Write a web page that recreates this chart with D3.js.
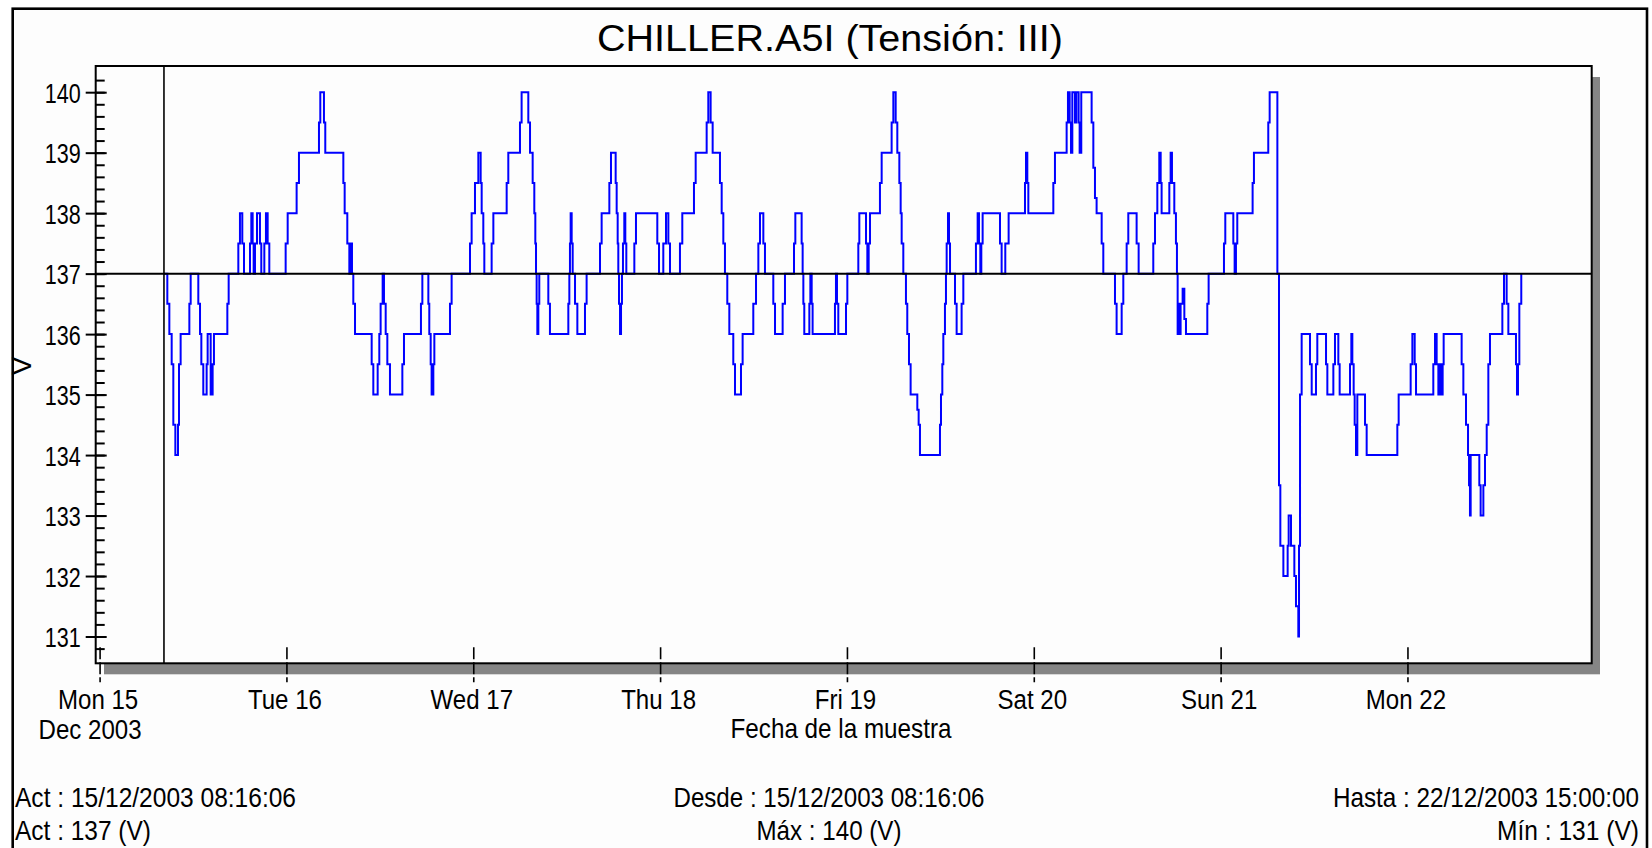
<!DOCTYPE html>
<meta charset="utf-8">
<style>
body { margin: 0; background: #fff; }
svg text { font-family: "Liberation Sans", Arial, sans-serif; fill: #000; }
</style>
<svg width="1652" height="848"></svg>
<script src="https://d3js.org/d3.v7.min.js"></script>
<script>

// series: hours since Mon 15 Dec 2003 00:00, and the reading (V) from then on
var hours = [
  8.27, 8.70, 8.96, 9.26, 9.47, 9.73, 10.07, 10.20, 10.41, 11.53,
  11.70, 12.68, 12.90, 13.07, 13.32, 13.75, 13.88, 14.27, 14.52, 14.69,
  16.41, 16.58, 17.82, 18.03, 18.33, 18.55, 19.32, 19.49, 19.66, 19.79,
  19.96, 20.22, 20.60, 20.77, 21.16, 21.37, 21.59, 21.80, 23.90, 24.16,
  25.31, 25.61, 28.18, 28.35, 28.82, 28.99, 31.31, 31.48, 31.82, 32.08,
  32.25, 32.42, 32.59, 32.81, 34.95, 35.16, 35.72, 35.93, 36.10, 36.36,
  36.53, 36.75, 36.96, 37.30, 38.89, 39.10, 41.28, 41.46, 42.23, 42.35,
  42.53, 42.65, 42.87, 43.00, 45.01, 45.22, 47.58, 47.79, 48.22, 48.65,
  48.95, 49.08, 49.29, 49.42, 50.36, 50.58, 52.29, 52.50, 54.00, 54.21,
  55.07, 55.29, 55.63, 55.84, 55.97, 56.06, 56.14, 56.23, 56.36, 56.48,
  57.64, 57.85, 60.21, 60.34, 60.42, 60.51, 60.64, 60.77, 61.07, 61.37,
  62.35, 62.56, 64.28, 64.49, 65.48, 65.69, 66.29, 66.42, 66.55, 66.63,
  66.72, 66.85, 66.98, 67.10, 67.23, 67.40, 67.53, 67.66, 68.69, 68.90,
  71.64, 71.86, 72.41, 72.76, 73.06, 73.27, 74.55, 74.85, 76.35, 76.57,
  77.98, 78.19, 78.49, 78.75, 79.69, 79.91, 80.12, 80.33, 80.63, 80.89,
  81.40, 81.62, 82.39, 82.60, 83.97, 84.32, 84.62, 84.83, 85.26, 85.47,
  86.54, 86.76, 87.74, 88.04, 89.20, 89.37, 90.18, 90.31, 90.40, 90.52,
  91.17, 91.30, 91.47, 91.59, 94.46, 94.59, 94.72, 94.89, 95.88, 96.05,
  97.46, 97.59, 98.45, 98.62, 98.79, 98.96, 100.24, 100.46, 101.74, 101.96,
  102.26, 102.47, 102.73, 102.90, 103.03, 103.24, 103.58, 103.75, 103.97, 104.18,
  105.04, 105.21, 105.38, 107.95, 108.08, 108.25, 108.38, 108.59, 108.72, 108.81,
  108.98, 109.11, 109.24, 109.88, 110.09, 110.73, 110.95, 112.57, 112.79, 112.96,
  113.13, 113.26, 113.43, 115.66, 115.87, 116.34, 116.77, 118.87, 119.00, 119.17,
  119.30, 122.51, 122.72, 124.22, 124.39, 124.61, 124.78, 124.95, 125.29, 125.46,
  125.76, 125.89, 126.10, 127.43, 127.65, 127.86, 128.07, 128.72, 128.93, 130.43,
  130.64, 131.29, 131.50, 131.93, 132.14, 133.21, 133.47, 135.35, 135.57, 135.87,
  136.12, 136.30, 136.42, 137.41, 137.58, 137.75, 138.05, 138.26, 138.39, 138.48,
  138.61, 138.74, 138.86, 139.12, 139.34, 139.55, 142.29, 142.46, 144.43, 144.60,
  145.63, 145.80, 145.97, 146.14, 148.11, 148.28, 150.12, 150.30, 151.29, 151.50,
  151.67, 152.06, 152.61, 152.74, 153.04, 153.47, 153.68, 153.98, 154.07, 154.20,
  154.41, 155.48, 155.70, 156.25, 156.42, 157.54, 157.71, 158.48, 158.69, 159.12,
  159.29, 160.62, 160.79, 160.92, 161.09, 161.22, 161.39, 161.56, 162.55, 162.76,
  166.70, 166.87, 168.41, 168.63, 168.93, 169.10, 171.32, 171.54, 171.75, 171.97,
  172.18, 172.39, 172.52, 172.65, 174.96, 175.18, 175.52, 175.78, 175.91, 176.03,
  176.12, 177.23, 177.40, 177.75, 177.96, 178.18, 178.39, 178.60, 180.19, 180.40,
  180.74, 180.96, 181.94, 182.07, 182.20, 182.37, 182.62
];
var volts = [
  137, 136.5, 136, 135.5, 134.5, 134, 134.5, 135.5, 136, 136.5,
  137, 136.5, 136, 135.5, 135, 135.5, 136, 135, 135.5, 136,
  136.5, 137, 137.5, 138, 137.5, 137, 137.5, 138, 137.5, 137,
  137.5, 138, 137.5, 137, 137.5, 138, 137.5, 137, 137.5, 138,
  138.5, 139, 139.5, 140, 139.5, 139, 138.5, 138, 137.5, 137,
  137.5, 137, 136.5, 136, 135.5, 135, 135.5, 136, 136.5, 137,
  136.5, 136, 135.5, 135, 135.5, 136, 136.5, 137, 136.5, 136,
  135.5, 135, 135.5, 136, 136.5, 137, 137.5, 138, 138.5, 139,
  138.5, 138, 137.5, 137, 137.5, 138, 138.5, 139, 139.5, 140,
  139.5, 139, 138.5, 138, 137.5, 137, 136.5, 136, 136.5, 137,
  136.5, 136, 136.5, 137, 137.5, 138, 137.5, 137, 136.5, 136,
  136.5, 137, 137.5, 138, 138.5, 139, 138.5, 138, 137.5, 137,
  136.5, 136, 136.5, 137, 137.5, 138, 137.5, 137, 137.5, 138,
  137.5, 137, 137.5, 138, 137.5, 137, 137.5, 138, 138.5, 139,
  139.5, 140, 139.5, 139, 138.5, 138, 137.5, 137, 136.5, 136,
  135.5, 135, 135.5, 136, 136.5, 137, 137.5, 138, 137.5, 137,
  136.5, 136, 136.5, 137, 137.5, 138, 137.5, 137, 136.5, 136,
  136.5, 137, 136.5, 136, 136.5, 137, 136.5, 136, 136.5, 137,
  137.5, 138, 137.5, 137, 137.5, 138, 138.5, 139, 139.5, 140,
  139.5, 139, 138.5, 138, 137.5, 137, 136.5, 136, 135.5, 135,
  134.75, 134.5, 134, 134.5, 135, 135.5, 136, 136.5, 137, 137.5,
  138, 137.5, 137, 136.5, 136, 136.5, 137, 137.5, 138, 137.5,
  137, 137.5, 138, 137.5, 137, 137.5, 138, 138.5, 139, 138.5,
  138, 138.5, 139, 139.5, 140, 139.5, 139, 140, 139.5, 140,
  139.5, 139, 140, 139.5, 138.75, 138.25, 138, 137.5, 137, 136.5,
  136, 136.5, 137, 137.5, 138, 137.5, 137, 137.5, 138, 138.5,
  139, 138.5, 138, 138.5, 139, 138.5, 138, 137.5, 137, 136,
  136.5, 136, 136.5, 136.75, 136.25, 136, 136.5, 137, 137.5, 138,
  137.5, 137, 137.5, 138, 138.5, 139, 139.5, 140, 137, 133.5,
  132.5, 132, 132.5, 133, 132.5, 132, 131.5, 131, 132.5, 135,
  136, 135.5, 135, 135.5, 136, 135.5, 135, 135.5, 136, 135.5,
  135, 135.5, 136, 135.5, 135, 134.5, 134, 135, 134.5, 134,
  134.5, 135, 135.5, 136, 135.5, 135, 135.5, 136, 135.5, 135,
  135.5, 135, 135.5, 136, 135.5, 135, 134.5, 134, 133.5, 133,
  134, 133.5, 133, 133.5, 134, 134.5, 135.5, 136, 136.5, 137,
  136.5, 136, 135.5, 135, 135.5, 136.5, 137
];

var yTicks = [131, 132, 133, 134, 135, 136, 137, 138, 139, 140];
var dayLabels = ["Mon 15", "Tue 16", "Wed 17", "Thu 18", "Fri 19", "Sat 20", "Sun 21", "Mon 22"];
var firstDaySub = "Dec 2003";

var cursorTime = new Date(2003, 11, 15, 8, 16, 6);
var cursorValue = 137;

var title = "CHILLER.A5I (Tensión: III)";
var xTitle = "Fecha de la muestra";
var yTitle = "V";
var footLeft = ["Act : 15/12/2003 08:16:06", "Act : 137 (V)"];
var footMid = ["Desde : 15/12/2003 08:16:06", "Máx : 140 (V)"];
var footRight = ["Hasta : 22/12/2003 15:00:00", "Mín : 131 (V)"];

var t0 = new Date(2003, 11, 15, 0, 0, 0);
var data = hours.map(function(h, i) {
  return { t: new Date(+t0 + h * 3600e3), v: volts[i] };
});
var days = dayLabels.map(function(d, i) { return d3.timeDay.offset(t0, i); });

var svg = d3.select("svg");

// plot box (no "top" here, that one is window.top)
var pL = 95.7, pR = 1591.7, pT = 66, pB = 663.3;

var x = d3.scaleTime()
    .domain([new Date(2003, 11, 14, 23, 30), new Date(2003, 11, 22, 23, 40)])
    .range([pL, pR]);
var y = d3.scaleLinear()
    .domain([130.557, 140.433])
    .range([pB, pT]);

// outer frame
svg.append("rect")
    .attr("x", 12.7).attr("y", 8.7)
    .attr("width", 1634.3).attr("height", 900)
    .attr("fill", "#fdfdfd")
    .attr("stroke", "#000").attr("stroke-width", 2.6);

// shadow + plot
svg.append("rect")
    .attr("x", pL + 8.3).attr("y", pT + 11)
    .attr("width", pR - pL).attr("height", pB - pT)
    .attr("fill", "#858585");
svg.append("rect")
    .attr("x", pL).attr("y", pT)
    .attr("width", pR - pL).attr("height", pB - pT)
    .attr("fill", "#fdfdfd")
    .attr("stroke", "#000").attr("stroke-width", 2);

var line = d3.line()
    .x(function(d) { return x(d.t); })
    .y(function(d) { return y(d.v); })
    .curve(d3.curveStepAfter);

svg.append("path")
    .datum(data)
    .attr("fill", "none")
    .attr("stroke", "#0000ff")
    .attr("stroke-width", 2)
    .attr("d", line);

// cursor cross
svg.append("line")
    .attr("x1", pL).attr("x2", pR)
    .attr("y1", y(cursorValue)).attr("y2", y(cursorValue))
    .attr("stroke", "#000").attr("stroke-width", 2);
svg.append("line")
    .attr("x1", x(cursorTime)).attr("x2", x(cursorTime))
    .attr("y1", pT).attr("y2", pB)
    .attr("stroke", "#000").attr("stroke-width", 1.6);

// y axis: minor ticks every 0.2
var minor = d3.range(654, 702).map(function(i) { return i / 5; });
var yMinor = svg.append("g")
    .attr("transform", "translate(" + pL + ",0)")
    .call(d3.axisLeft(y).tickValues(minor).tickSize(-9).tickFormat(""));
yMinor.select(".domain").remove();
yMinor.selectAll("line").attr("stroke", "#000").attr("stroke-width", 2);

var yAxis = svg.append("g")
    .attr("transform", "translate(" + pL + ",0)")
    .call(d3.axisLeft(y).tickValues(yTicks).tickFormat(d3.format("d")))
    .attr("font-size", 28)
    .attr("font-family", null);
yAxis.select(".domain").remove();
yAxis.selectAll("line")
    .attr("x1", -10).attr("x2", 11)
    .attr("stroke", "#000").attr("stroke-width", 2);
yAxis.selectAll("text")
    .attr("transform", "scale(0.77,1)")
    .attr("x", -15 / 0.77)
    .attr("dy", "0.36em");

// x axis
var xAxis = svg.append("g")
    .attr("transform", "translate(0," + pB + ")")
    .call(d3.axisBottom(x).tickValues(days).tickFormat(function(d, i) { return dayLabels[i]; }))
    .attr("font-size", 28)
    .attr("font-family", null);
xAxis.select(".domain").remove();
xAxis.selectAll("line")
    .attr("y1", -16).attr("y2", 19)
    .attr("stroke", "#000").attr("stroke-width", 1.6)
    .attr("stroke-dasharray", "12,3");
xAxis.selectAll("text")
    .attr("transform", "scale(0.86,1)")
    .attr("x", -2 / 0.86)
    .attr("y", 46)
    .attr("dy", null);
xAxis.select(".tick")
    .append("text")
    .attr("transform", "scale(0.86,1)")
    .attr("x", -10 / 0.86)
    .attr("y", 76)
    .attr("fill", "#000")
    .text(firstDaySub);

// text helper, fitted to measured widths
function label(px, py, str, anchor, size, len) {
  var t = svg.append("text")
      .attr("x", px).attr("y", py)
      .attr("text-anchor", anchor)
      .attr("font-size", size)
      .text(str);
  if (len) t.attr("textLength", len).attr("lengthAdjust", "spacingAndGlyphs");
  return t;
}

label(830, 51, title, "middle", 36, 466);
label(841, 738, xTitle, "middle", 28, 221);

svg.append("text")
    .attr("transform", "translate(31,366) rotate(-90)")
    .attr("text-anchor", "middle")
    .attr("font-size", 28)
    .text(yTitle);

label(15, 807, footLeft[0], "start", 28, 281);
label(15, 840, footLeft[1], "start", 28, 136);
label(829, 807, footMid[0], "middle", 28, 311);
label(829, 840, footMid[1], "middle", 28, 145);
label(1639, 807, footRight[0], "end", 28, 306);
label(1639, 840, footRight[1], "end", 28, 142);

</script>
